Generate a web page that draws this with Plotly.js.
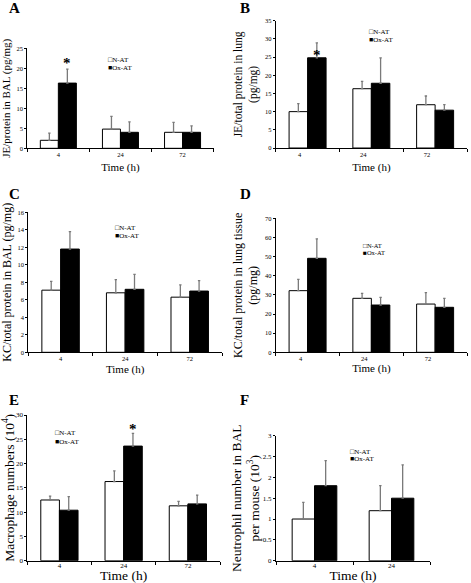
<!DOCTYPE html>
<html><head><meta charset="utf-8">
<script src="https://cdn.plot.ly/plotly-3.0.1.min.js"></script>
<style>html,body{margin:0;padding:0;background:#fff}#chart{width:471px;height:583px}</style>
</head><body><div id="chart"></div>
<script>
// ---- data ----
const times3 = ['4', '24', '72'];
const times2 = ['4', '24'];
const seriesNames = ['N-AT', 'Ox-AT'];
const xTitle = 'Time (h)';

// A: JE/protein in BAL
const jeBalNat = [2.0, 4.8, 4.0];
const jeBalNatErr = [1.8, 3.2, 2.5];
const jeBalOx = [16.3, 4.0, 4.0];
const jeBalOxErr = [3.5, 2.6, 1.6];

// B: JE/total protein in lung
const jeLungNat = [10.0, 16.3, 11.9];
const jeLungNatErr = [2.2, 2.0, 2.4];
const jeLungOx = [24.8, 17.8, 10.4];
const jeLungOxErr = [4.1, 7.0, 1.5];

// C: KC/total protein in BAL
const kcBalNat = [7.1, 6.8, 6.3];
const kcBalNatErr = [1.0, 1.5, 1.4];
const kcBalOx = [11.8, 7.2, 7.0];
const kcBalOxErr = [2.0, 1.7, 1.2];

// D: KC/total protein in lung tissue
const kcLungNat = [32.2, 28.2, 25.2];
const kcLungNatErr = [5.9, 2.6, 6.0];
const kcLungOx = [49.1, 24.7, 23.5];
const kcLungOxErr = [10.1, 4.0, 4.7];

// E: Macrophage numbers
const macroNat = [12.5, 16.3, 11.3];
const macroNatErr = [0.8, 2.2, 0.9];
const macroOx = [10.4, 23.6, 11.7];
const macroOxErr = [2.8, 2.6, 1.8];

// F: Neutrophil number
const neutroNat = [1.0, 1.2];
const neutroNatErr = [0.4, 0.6];
const neutroOx = [1.8, 1.5];
const neutroOxErr = [0.6, 0.8];

const panelLetters = ['A', 'B', 'C', 'D', 'E', 'F'];
const yTitles = [
  'JE/protein in BAL (pg/mg)',
  'JE/total protein in lung<br>(pg/mg)',
  'KC/total protein in BAL (pg/mg)',
  'KC/total protein in lung tissue<br>(pg/mg)',
  'Macrophage numbers (10<sup>4</sup>)',
  'Neutrophil number in BAL<br>per mouse (10<sup>3</sup>)'
];
const yMax = [25, 35, 16, 70, 30, 3];
const yStep = [5, 5, 2, 10, 5, 0.5];
const starBars = [[0, 22.1], [0, 26.4], null, null, [1, 27.8], null];

// ---- layout geometry ----
const W = 471, H = 583;
const FONT = '"Liberation Serif", "Times New Roman", Times, serif';
const px = v => v / W;
const py = v => 1 - v / H;
const geo = [
  {x0: 27.3, x1: 213.6, yTop: 48.3, yBot: 148.3, tf: 6.5, ytf: 11, xtf: 11, letter: [7, 8.5], leg: [106, 60, 68], lf: 7, ys: 4, xs: 6, shift: 0, tls: 0},
  {x0: 275.7, x1: 467, yTop: 20.7, yBot: 148, tf: 6.5, ytf: 11.5, xtf: 11, letter: [238, 8], leg: [366.7, 32.3, 40], lf: 7, ys: 4, xs: 6, shift: -8, tls: 0},
  {x0: 28.3, x1: 222, yTop: 212.3, yBot: 352.3, tf: 6.5, ytf: 12, xtf: 11, letter: [7, 194], leg: [112.7, 228.3, 236.3], lf: 7, ys: 4, xs: 4, shift: 0, tls: 0},
  {x0: 275.7, x1: 467, yTop: 218.3, yBot: 352.3, tf: 6.5, ytf: 12, xtf: 11, letter: [238, 194], leg: [361, 245, 252.6], lf: 6.5, ys: 4, xs: 1, shift: -7, tls: 0},
  {x0: 27.3, x1: 220, yTop: 415, yBot: 560.7, tf: 7, ytf: 13.5, xtf: 13.5, letter: [7, 400], leg: [53.3, 433.3, 441.7], lf: 7, ys: 4, xs: 7, shift: 0, tls: -2},
  {x0: 276, x1: 430, yTop: 435.7, yBot: 560.7, tf: 7, ytf: 13.5, xtf: 13.5, letter: [238, 400], leg: [347.7, 451.7, 459.2], lf: 7, ys: 0, xs: 7, shift: 0, tls: -2}
];

const panels = [
  {cats: times3, n: jeBalNat, ne: jeBalNatErr, o: jeBalOx, oe: jeBalOxErr},
  {cats: times3, n: jeLungNat, ne: jeLungNatErr, o: jeLungOx, oe: jeLungOxErr},
  {cats: times3, n: kcBalNat, ne: kcBalNatErr, o: kcBalOx, oe: kcBalOxErr},
  {cats: times3, n: kcLungNat, ne: kcLungNatErr, o: kcLungOx, oe: kcLungOxErr},
  {cats: times3, n: macroNat, ne: macroNatErr, o: macroOx, oe: macroOxErr},
  {cats: times2, n: neutroNat, ne: neutroNatErr, o: neutroOx, oe: neutroOxErr}
];

const traces = [];
const layout = {
  width: W, height: H,
  margin: {l: 0, r: 0, t: 0, b: 0},
  paper_bgcolor: '#fff', plot_bgcolor: 'rgba(0,0,0,0)',
  showlegend: false,
  barmode: 'group', bargap: 0.42, bargroupgap: 0,
  font: {family: FONT, color: '#000'},
  annotations: []
};

panels.forEach((p, i) => {
  const k = i + 1;
  const xa = k === 1 ? 'x' : 'x' + k;
  const ya = k === 1 ? 'y' : 'y' + k;
  const g = geo[i];
  const zeros = p.cats.map(() => 0);
  const errStyle = {type: 'data', symmetric: false, arrayminus: zeros, color: '#7a7a7a', thickness: 1.3, width: 1.2};
  traces.push({
    type: 'bar', x: p.cats, y: p.n, name: seriesNames[0], xaxis: xa, yaxis: ya,
    marker: {color: '#ffffff', line: {color: '#000', width: 1}},
    error_y: Object.assign({array: p.ne}, errStyle), hoverinfo: 'skip'
  });
  traces.push({
    type: 'bar', x: p.cats, y: p.o, name: seriesNames[1], xaxis: xa, yaxis: ya,
    marker: {color: '#000000', line: {color: '#000', width: 1}},
    error_y: Object.assign({array: p.oe}, errStyle), hoverinfo: 'skip'
  });
  layout['xaxis' + (k === 1 ? '' : k)] = {
    type: 'category', domain: [px(g.x0), px(g.x1)], anchor: ya,
    range: [-0.5, p.cats.length - 0.5],
    showline: true, linecolor: '#000', linewidth: 1,
    ticks: 'outside', tickson: 'boundaries', ticklen: 3, tickcolor: '#000', tickwidth: 1,
    tickfont: {family: FONT, size: g.tf}, ticklabelshift: g.shift, ticklabelstandoff: g.tls,
    showgrid: false, zeroline: false, fixedrange: true,
    title: {text: xTitle, font: {family: FONT, size: g.xtf}, standoff: g.xs}
  };
  layout['yaxis' + (k === 1 ? '' : k)] = {
    domain: [py(g.yBot), py(g.yTop)], anchor: xa,
    range: [0, yMax[i]], dtick: yStep[i], tick0: 0,
    showline: true, linecolor: '#000', linewidth: 1,
    ticks: 'outside', ticklen: 2, tickcolor: '#000', tickwidth: 1,
    tickfont: {family: FONT, size: g.tf},
    showgrid: false, zeroline: false, fixedrange: true,
    title: {text: yTitles[i], font: {family: FONT, size: g.ytf}, standoff: g.ys}
  };
  // panel letter
  layout.annotations.push({
    xref: 'paper', yref: 'paper', x: px(g.letter[0]), y: py(g.letter[1]),
    xanchor: 'left', yanchor: 'middle', showarrow: false,
    text: '<b>' + panelLetters[i] + '</b>', font: {family: FONT, size: 15, color: '#000'}
  });
  // legend
  layout.annotations.push({
    xref: 'paper', yref: 'paper', x: px(g.leg[0]), y: py(g.leg[1]),
    xanchor: 'left', yanchor: 'middle', showarrow: false,
    text: '\u25A1' + seriesNames[0], font: {family: FONT, size: g.lf, color: '#000'}
  });
  layout.annotations.push({
    xref: 'paper', yref: 'paper', x: px(g.leg[0]), y: py(g.leg[2]),
    xanchor: 'left', yanchor: 'middle', showarrow: false,
    text: '\u25A0' + seriesNames[1], font: {family: FONT, size: g.lf, color: '#000'}
  });
  // significance star
  if (starBars[i]) {
    layout.annotations.push({
      xref: xa, yref: ya, x: starBars[i][0] + 0.145, y: starBars[i][1],
      xanchor: 'center', yanchor: 'middle', yshift: -3, showarrow: false,
      text: '<b>*</b>', font: {family: FONT, size: 15, color: '#000'}
    });
  }
});

Plotly.newPlot('chart', traces, layout, {staticPlot: true, displayModeBar: false});
</script>
</body></html>
